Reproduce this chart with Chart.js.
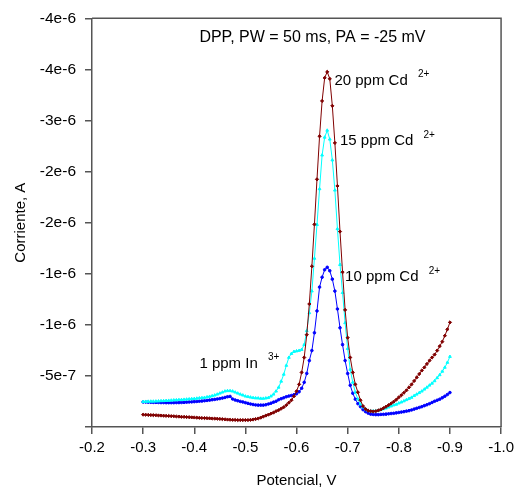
<!DOCTYPE html>
<html>
<head>
<meta charset="utf-8">
<script src="https://cdn.jsdelivr.net/npm/chart.js@4.4.1/dist/chart.umd.min.js"></script>
<style>
  body { margin: 0; background: #fff; }
  #wrap { width: 519px; height: 491px; }
</style>
</head>
<body>
<div id="wrap"><canvas id="chart1" width="519" height="491"></canvas></div>
<script>
// potential scan, V
const potentials = [
  -0.300, -0.305, -0.310, -0.315, -0.320, -0.325, -0.330, -0.335, -0.340, -0.345,
  -0.350, -0.355, -0.360, -0.365, -0.370, -0.375, -0.380, -0.385, -0.390, -0.395,
  -0.400, -0.405, -0.410, -0.415, -0.420, -0.425, -0.430, -0.435, -0.440, -0.445,
  -0.450, -0.455, -0.460, -0.465, -0.470, -0.475, -0.480, -0.485, -0.490, -0.495,
  -0.500, -0.505, -0.510, -0.515, -0.520, -0.525, -0.530, -0.535, -0.540, -0.545,
  -0.550, -0.555, -0.560, -0.565, -0.570, -0.575, -0.580, -0.585, -0.590, -0.595,
  -0.600, -0.605, -0.610, -0.615, -0.620, -0.625, -0.630, -0.635, -0.640, -0.645,
  -0.650, -0.655, -0.660, -0.665, -0.670, -0.675, -0.680, -0.685, -0.690, -0.695,
  -0.700, -0.705, -0.710, -0.715, -0.720, -0.725, -0.730, -0.735, -0.740, -0.745,
  -0.750, -0.755, -0.760, -0.765, -0.770, -0.775, -0.780, -0.785, -0.790, -0.795,
  -0.800, -0.805, -0.810, -0.815, -0.820, -0.825, -0.830, -0.835, -0.840, -0.845,
  -0.850, -0.855, -0.860, -0.865, -0.870, -0.875, -0.880, -0.885, -0.890, -0.895,
  -0.900
];

// currents in microampere
const cd20 = [
  -0.121, -0.120, -0.118, -0.117, -0.116, -0.115, -0.113, -0.112, -0.111, -0.109,
  -0.108, -0.106, -0.105, -0.103, -0.102, -0.100, -0.099, -0.097, -0.096, -0.094,
  -0.093, -0.091, -0.090, -0.088, -0.087, -0.086, -0.084, -0.083, -0.082, -0.081,
  -0.079, -0.077, -0.075, -0.073, -0.071, -0.070, -0.069, -0.068, -0.068, -0.068,
  -0.068, -0.068, -0.070, -0.073, -0.078, -0.083, -0.092, -0.102, -0.112, -0.121,
  -0.131, -0.141, -0.155, -0.165, -0.180, -0.194, -0.214, -0.238, -0.262, -0.301,
  -0.350, -0.417, -0.534, -0.680, -0.903, -1.204, -1.573, -1.983, -2.424, -2.845,
  -3.191, -3.417, -3.476, -3.408, -3.143, -2.780, -2.359, -1.913, -1.515, -1.146,
  -0.874, -0.680, -0.534, -0.417, -0.340, -0.262, -0.204, -0.175, -0.160, -0.155,
  -0.152, -0.155, -0.162, -0.172, -0.184, -0.199, -0.214, -0.230, -0.248, -0.267,
  -0.291, -0.311, -0.335, -0.359, -0.388, -0.417, -0.451, -0.485, -0.519, -0.553,
  -0.583, -0.617, -0.650, -0.680, -0.709, -0.748, -0.791, -0.835, -0.893, -0.956,
  -1.024
];

const cd15 = [
  -0.248, -0.249, -0.250, -0.251, -0.251, -0.252, -0.253, -0.255, -0.256, -0.258,
  -0.259, -0.261, -0.263, -0.264, -0.266, -0.267, -0.269, -0.271, -0.273, -0.275,
  -0.277, -0.280, -0.283, -0.285, -0.288, -0.293, -0.298, -0.304, -0.311, -0.320,
  -0.330, -0.340, -0.350, -0.354, -0.354, -0.350, -0.340, -0.330, -0.320, -0.311,
  -0.301, -0.296, -0.291, -0.286, -0.283, -0.282, -0.279, -0.279, -0.282, -0.286,
  -0.301, -0.320, -0.350, -0.388, -0.447, -0.515, -0.602, -0.680, -0.718, -0.738,
  -0.743, -0.748, -0.757, -0.806, -0.942, -1.117, -1.330, -1.650, -1.981, -2.330,
  -2.660, -2.835, -2.903, -2.816, -2.612, -2.317, -1.939, -1.589, -1.314, -1.019,
  -0.767, -0.563, -0.437, -0.340, -0.272, -0.223, -0.194, -0.175, -0.162, -0.155,
  -0.155, -0.157, -0.162, -0.170, -0.177, -0.184, -0.194, -0.204, -0.214, -0.221,
  -0.233, -0.243, -0.254, -0.266, -0.278, -0.289, -0.306, -0.320, -0.335, -0.350,
  -0.369, -0.388, -0.408, -0.427, -0.451, -0.481, -0.510, -0.544, -0.583, -0.631,
  -0.689
];

const cd10 = [
  -0.245, -0.244, -0.243, -0.242, -0.241, -0.241, -0.240, -0.239, -0.239, -0.238,
  -0.238, -0.238, -0.238, -0.239, -0.239, -0.240, -0.241, -0.243, -0.245, -0.246,
  -0.248, -0.250, -0.252, -0.254, -0.257, -0.260, -0.263, -0.267, -0.270, -0.274,
  -0.278, -0.283, -0.289, -0.296, -0.299, -0.274, -0.264, -0.257, -0.250, -0.245,
  -0.238, -0.231, -0.225, -0.220, -0.216, -0.214, -0.214, -0.214, -0.218, -0.225,
  -0.233, -0.243, -0.252, -0.267, -0.277, -0.286, -0.296, -0.303, -0.308, -0.316,
  -0.325, -0.345, -0.379, -0.437, -0.524, -0.650, -0.748, -0.922, -1.136, -1.369,
  -1.466, -1.539, -1.563, -1.529, -1.447, -1.330, -1.155, -0.971, -0.806, -0.650,
  -0.524, -0.408, -0.330, -0.272, -0.228, -0.199, -0.170, -0.150, -0.136, -0.126,
  -0.123, -0.121, -0.121, -0.123, -0.124, -0.126, -0.129, -0.132, -0.134, -0.138,
  -0.142, -0.146, -0.150, -0.155, -0.160, -0.167, -0.175, -0.183, -0.191, -0.199,
  -0.209, -0.218, -0.228, -0.240, -0.252, -0.262, -0.272, -0.286, -0.301, -0.318,
  -0.337
];

const xTickValues = [-0.2, -0.3, -0.4, -0.5, -0.6, -0.7, -0.8, -0.9, -1.0];
const xTickLabels = ["-0.2", "-0.3", "-0.4", "-0.5", "-0.6", "-0.7", "-0.8", "-0.9", "-1.0"];
const yTickValues = [-4, -3.5, -3, -2.5, -2, -1.5, -1, -0.5, 0];
const yTickLabels = ["-4e-6", "-4e-6", "-3e-6", "-2e-6", "-2e-6", "-1e-6", "-1e-6", "-5e-7", ""];

// text notes, anchored at (potential, current)
const notes = [
  { text: "DPP, PW = 50 ms, PA = -25 mV", sup: "", size: 16, x: -0.41, y: -3.81 },
  { text: "20 ppm Cd", sup: "2+", size: 15, x: -0.674, y: -3.39 },
  { text: "15 ppm Cd", sup: "2+", size: 15, x: -0.685, y: -2.80 },
  { text: "10 ppm Cd", sup: "2+", size: 15, x: -0.695, y: -1.47 },
  { text: "1 ppm In", sup: "3+", size: 15, x: -0.41, y: -0.62 },
];

function pickLabel(values, labels, v) {
  let best = 0;
  values.forEach((tv, i) => {
    if (Math.abs(tv - v) < Math.abs(values[best] - v)) best = i;
  });
  return labels[best];
}

function toPoints(values) {
  return values.map((v, i) => ({ x: potentials[i], y: v }));
}

const fontName = "'Liberation Sans', Arial, sans-serif";

const framePlugin = {
  id: "frame",
  afterDraw(chart) {
    const { ctx, chartArea, scales } = chart;
    ctx.save();
    ctx.strokeStyle = "#555";
    ctx.lineWidth = 1.5;
    ctx.beginPath();
    ctx.moveTo(chartArea.left, chartArea.top);
    ctx.lineTo(chartArea.right, chartArea.top);
    ctx.lineTo(chartArea.right, chartArea.bottom);
    ctx.stroke();

    ctx.fillStyle = "#000";
    ctx.textBaseline = "middle";
    ctx.textAlign = "left";
    notes.forEach((n) => {
      const px = scales.x.getPixelForValue(n.x);
      const py = scales.y.getPixelForValue(n.y);
      ctx.font = n.size + "px " + fontName;
      ctx.fillText(n.text, px, py);
      if (n.sup) {
        const w = ctx.measureText(n.text + " ").width;
        ctx.font = "10px " + fontName;
        ctx.fillText(n.sup, px + w + 6, py - 6);
      }
    });
    ctx.restore();
  },
};

const ctx = document.getElementById("chart1").getContext("2d");
const chart = new Chart(ctx, {
  type: "line",
  data: {
    datasets: [
      {
        label: "20 ppm Cd2+",
        data: toPoints(cd20),
        borderColor: "#800000",
        backgroundColor: "#800000",
        borderWidth: 1,
        pointRadius: 1.6,
        pointStyle: "rectRot",
        tension: 0,
      },
      {
        label: "15 ppm Cd2+",
        data: toPoints(cd15),
        borderColor: "#00ffff",
        backgroundColor: "#00ffff",
        borderWidth: 1,
        pointRadius: 1.6,
        pointStyle: "triangle",
        tension: 0,
      },
      {
        label: "10 ppm Cd2+",
        data: toPoints(cd10),
        borderColor: "#0000ff",
        backgroundColor: "#0000ff",
        borderWidth: 1,
        pointRadius: 1.3,
        tension: 0,
      },
    ],
  },
  options: {
    responsive: false,
    animation: false,
    layout: { padding: { top: 15, right: 15, left: 0, bottom: 0 } },
    plugins: { legend: { display: false }, tooltip: { enabled: false } },
    scales: {
      x: {
        type: "linear",
        min: -1.0,
        max: -0.2,
        reverse: true,
        afterFit: (scale) => { scale.height = 64; },
        ticks: {
          stepSize: 0.1,
          padding: 5,
          color: "#000",
          font: { family: fontName, size: 15 },
          maxRotation: 0,
          callback: (v) => pickLabel(xTickValues, xTickLabels, v),
        },
        grid: { drawOnChartArea: false, tickLength: 7, color: "#555", lineWidth: 1.5 },
        border: { color: "#555", width: 1.5 },
        title: {
          display: true,
          text: "Potencial, V",
          color: "#000",
          font: { family: fontName, size: 15 },
          padding: { top: 6, bottom: 1 },
        },
      },
      y: {
        type: "linear",
        min: -4,
        max: 0,
        reverse: true,
        afterFit: (scale) => { scale.width = 92; },
        ticks: {
          stepSize: 0.5,
          padding: 9,
          color: "#000",
          font: { family: fontName, size: 15.5 },
          callback: (v) => pickLabel(yTickValues, yTickLabels, v),
        },
        grid: { drawOnChartArea: false, tickLength: 7, color: "#555", lineWidth: 1.5 },
        border: { color: "#555", width: 1.5 },
        title: {
          display: true,
          text: "Corriente, A",
          color: "#000",
          font: { family: fontName, size: 15 },
          padding: { top: 12, bottom: 0 },
        },
      },
    },
  },
  plugins: [framePlugin],
});
</script>
</body>
</html>
